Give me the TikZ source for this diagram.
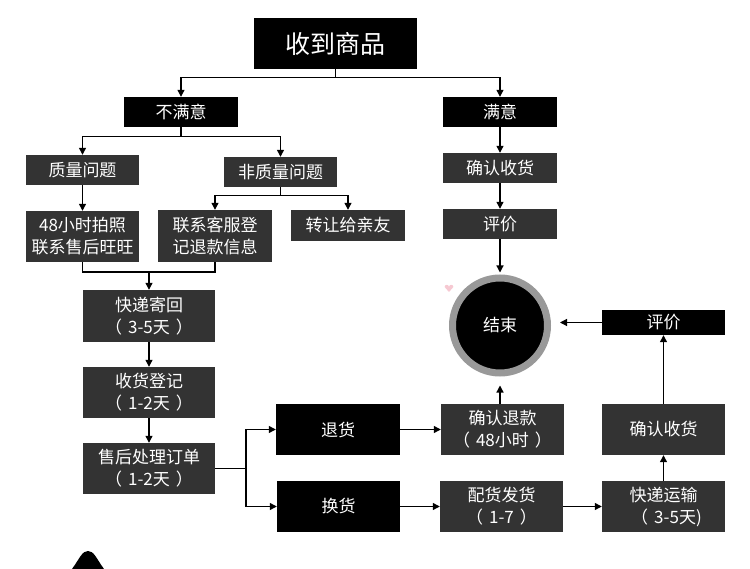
\documentclass[tikz,border=0pt]{standalone}
\usepackage{fontspec}
\newfontfamily\cjk{Noto Sans CJK SC}
\usetikzlibrary{arrows.meta}

\definecolor{boxgray}{HTML}{333333}
\definecolor{ringgray}{HTML}{999999}
\definecolor{heartpink}{HTML}{F6C9D2}

\newcommand{\jg}{\hspace{6pt}}

\tikzset{
  hei/.style={fill=black, text=white, inner sep=0pt, align=center,
    font=\cjk\fontsize{17}{22}\selectfont},
  hui/.style={hei, fill=boxgray},
  trait/.style={line width=1.2pt},
  fleche/.style={trait, -{Triangle[width=7pt,length=7pt]}},
}

\begin{document}
\begin{tikzpicture}[x=1pt,y=-1pt]
\useasboundingbox (0,0) rectangle (750,569);

% Debut
\node[hei, minimum width=163pt, minimum height=51pt, font=\cjk\fontsize{25}{30}\selectfont] (sp) at (335.5,43.5) {收到商品};
\node[hei, minimum width=114pt, minimum height=30pt] (bmy) at (181,112) {不满意};
\node[hei, minimum width=114pt, minimum height=30pt] (my) at (500,112) {满意};

% Branche non satisfait
\node[hui, minimum width=113pt, minimum height=30pt] (zl) at (82.5,170) {质量问题};
\node[hui, minimum width=113pt, minimum height=30pt] (fzl) at (280.5,172) {非质量问题};
\node[hui, minimum width=113pt, minimum height=51pt] (pz) at (82.5,236.5) {48小时拍照\\联系售后旺旺};
\node[hui, minimum width=114pt, minimum height=52pt] (lx) at (215,236) {联系客服登\\记退款信息};
\node[hui, minimum width=114pt, minimum height=31pt] (zr) at (348,225.5) {转让给亲友};

\node[hui, minimum width=132pt, minimum height=52pt] (kd) at (149,316) {快递寄回\\（\jg 3-5天\jg ）};
\node[hui, minimum width=132pt, minimum height=51pt] (sd) at (149,392.5) {收货登记\\（\jg 1-2天\jg ）};
\node[hui, minimum width=132pt, minimum height=51pt] (sh) at (149,468.5) {售后处理订单\\（\jg 1-2天\jg ）};

\node[hei, minimum width=124pt, minimum height=51pt] (th) at (338,429.5) {退货};
\node[hei, minimum width=123pt, minimum height=51pt] (hh) at (338.5,506.5) {换货};
\node[hui, minimum width=123pt, minimum height=51pt] (qt) at (502.5,429.5) {确认退款\\（\jg 48小时\jg ）};
\node[hui, minimum width=123pt, minimum height=51pt] (ph) at (501.5,506.5) {配货发货\\（\jg 1-7\jg ）};
\node[hui, minimum width=123pt, minimum height=51pt] (ky) at (663.5,506.5) {快递运输\\\jg（\jg 3-5天)};
\node[hui, minimum width=123pt, minimum height=51pt] (qs2) at (663.5,429.5) {确认收货};
\node[hei, minimum width=123pt, minimum height=25pt] (pj2) at (663.5,322.5) {评价};

% Branche satisfait
\node[hui, minimum width=114pt, minimum height=30pt] (qs) at (500,168) {确认收货};
\node[hui, minimum width=114pt, minimum height=30pt] (pj) at (500,224) {评价};

% Fin
\node[hei, circle, draw=ringgray, line width=7pt, minimum size=95pt] (fin) at (500,325.5) {结束};

% Fleches
\draw[fleche] (sp.south) -- ++(0,8) -| (bmy.north);
\draw[fleche] (sp.south) -- ++(0,8) -| (my.north);
\draw[fleche] (bmy.south) -- ++(0,9) -| (zl.north);
\draw[fleche] (bmy.south) -- ++(0,9) -| (fzl.north);
\draw[fleche] (zl) -- (pz);
\draw[fleche] (fzl.south) -- ++(0,8) -| (lx.north);
\draw[fleche] (fzl.south) -- ++(0,8) -| (zr.north);

\coordinate (j1) at (149,272);
\draw[trait] (pz.south) |- (j1) -| (lx.south);
\draw[fleche] (j1) -- (kd.north);
\draw[fleche] (kd) -- (sd);
\draw[fleche] (sd) -- (sh);

\coordinate (j2) at (246,468.5);
\draw[trait] (sh.east) -- (j2);
\draw[fleche] (j2) |- (th.west);
\draw[fleche] (j2) |- (hh.west);
\draw[fleche] (th) -- (qt);
\draw[fleche] (hh) -- (ph);
\draw[fleche] (ph) -- (ky);
\draw[fleche] (ky) -- (qs2);
\draw[fleche] (qs2) -- (pj2);

\draw[fleche] (my) -- (qs);
\draw[fleche] (qs) -- (pj);
\draw[fleche, shorten >=2pt] (pj) -- (fin);
\draw[fleche, shorten >=9pt] (fin.south |- qt.north) -- (fin.south);
\draw[fleche, shorten >=9pt] (pj2.west) -- (pj2.west -| fin.east);

% Decor
\fill[heartpink] (449,292) -- (444.6,287) arc (180:360:2.2) arc (180:360:2.2) -- cycle;
\fill (72,569) .. controls (80,558) and (82,551) .. (88,551)
  .. controls (94,551) and (96,558) .. (104,569) -- cycle;

\end{tikzpicture}
\end{document}
